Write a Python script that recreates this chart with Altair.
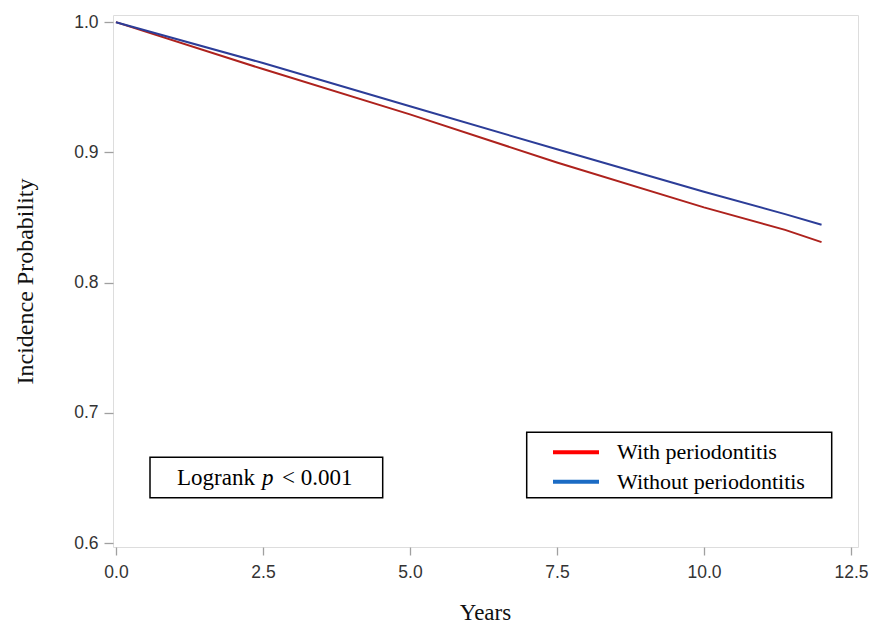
import altair as alt
import pandas as pd

# Readings from the reference (years, incidence probability)
with_t = [0.0, 2.5, 5.0, 7.5, 10.0, 11.38, 12.0]
with_p = [1.0, 0.964, 0.9292, 0.8922, 0.8578, 0.8405, 0.8311]
without_t = [0.0, 2.5, 5.0, 7.5, 10.0, 11.38, 12.0]
without_p = [1.0, 0.9686, 0.9354, 0.9024, 0.8698, 0.8526, 0.8444]

groups = ["With periodontitis", "Without periodontitis"]
line_colors = ["#AE221D", "#2C3D98"]
legend_colors = ["#FF0000", "#1B6BC4"]

x_ticks = [0.0, 2.5, 5.0, 7.5, 10.0, 12.5]
y_ticks = [0.6, 0.7, 0.8, 0.9, 1.0]

rows = []
for t, p in zip(with_t, with_p):
    rows.append({"t": t, "p": p, "g": groups[0]})
for t, p in zip(without_t, without_p):
    rows.append({"t": t, "p": p, "g": groups[1]})
df = pd.DataFrame(rows)

W, H = 745, 532
OX = 3  # horizontal shift relative to the reference frame origin

xscale = alt.Scale(domain=[-0.05, 12.62], nice=False, zero=False)
yscale = alt.Scale(domain=[0.597, 1.0055], nice=False, zero=False)

lines = alt.Chart(df).mark_line(strokeWidth=2, interpolate="linear").encode(
    x=alt.X("t:Q", scale=xscale, axis=alt.Axis(
        values=x_ticks, format=".1f", title="Years", grid=False, domain=False,
        tickSize=8, tickColor="#a0a0a0", tickWidth=1.3,
        labelFont="Liberation Sans", labelFontSize=17.5, labelColor="#333333", labelPadding=8,
        titleFont="Liberation Serif", titleFontSize=23, titleFontWeight="normal", titleColor="#111111",
        titleX=372, titleY=77, titleBaseline="bottom", titleAlign="center")),
    y=alt.Y("p:Q", scale=yscale, axis=alt.Axis(
        values=y_ticks, format=".1f", title="Incidence Probability", grid=False, domain=False,
        tickSize=9, tickColor="#a0a0a0", tickWidth=1.3,
        labelFont="Liberation Sans", labelFontSize=17.5, labelColor="#333333", labelPadding=6,
        titleFont="Liberation Serif", titleFontSize=24, titleFontWeight="normal", titleColor="#111111",
        titleX=-88, titleY=266, titleAngle=270, titleBaseline="middle", titleAlign="center")),
    color=alt.Color("g:N", scale=alt.Scale(domain=groups, range=line_colors), legend=None),
)

# Legend box
leg_box = alt.Chart(pd.DataFrame({"a": [0]})).mark_rect(
    fill="white", stroke="black", strokeWidth=1.5
).encode(x=alt.value(410.7 + OX), x2=alt.value(715.7 + OX), y=alt.value(417.3), y2=alt.value(482.7))

leg_df = pd.DataFrame({"g": groups, "c": legend_colors, "yy": [437.3, 466.7]})
leg_sw = alt.Chart(leg_df).mark_rule(strokeWidth=4).encode(
    x=alt.value(437 + OX), x2=alt.value(483 + OX), y=alt.Y("yy:Q", scale=None),
    color=alt.Color("c:N", scale=None))
leg_tx = alt.Chart(leg_df).mark_text(
    align="left", baseline="middle", font="Liberation Serif", fontSize=22, color="black"
).encode(x=alt.value(501 + OX), y=alt.Y("yy:Q", scale=None), text="g:N")

# Logrank annotation
lr_box = alt.Chart(pd.DataFrame({"a": [0]})).mark_rect(
    fill="white", stroke="black", strokeWidth=1.5
).encode(x=alt.value(34 + OX), x2=alt.value(266.7 + OX), y=alt.value(442.3), y2=alt.value(482.7))
lr_parts = ["Logrank", "p", "< 0.001"]
lr_df = pd.DataFrame({"s": lr_parts, "xx": [61 + OX, 146 + OX, 166 + OX]})
lr_tx1 = alt.Chart(lr_df[lr_df.s != "p"]).mark_text(
    align="left", baseline="middle", font="Liberation Serif", fontSize=23, color="black"
).encode(x=alt.X("xx:Q", scale=None), y=alt.value(463), text="s:N")
lr_tx2 = alt.Chart(lr_df[lr_df.s == "p"]).mark_text(
    align="left", baseline="middle", font="Liberation Serif", fontSize=23, fontStyle="italic", color="black"
).encode(x=alt.X("xx:Q", scale=None), y=alt.value(463), text="s:N")

chart = alt.layer(lines, leg_box, leg_sw, leg_tx, lr_box, lr_tx1, lr_tx2).properties(
    width=W, height=H,
    autosize=alt.AutoSizeParams(type="none"),
    padding={"left": 105, "top": 7, "right": 11, "bottom": 77},
).configure_view(stroke="#c4c8cc", strokeWidth=1.5).configure(background="white")

chart.save("out.html", embed_options={"renderer": "svg", "actions": False})
